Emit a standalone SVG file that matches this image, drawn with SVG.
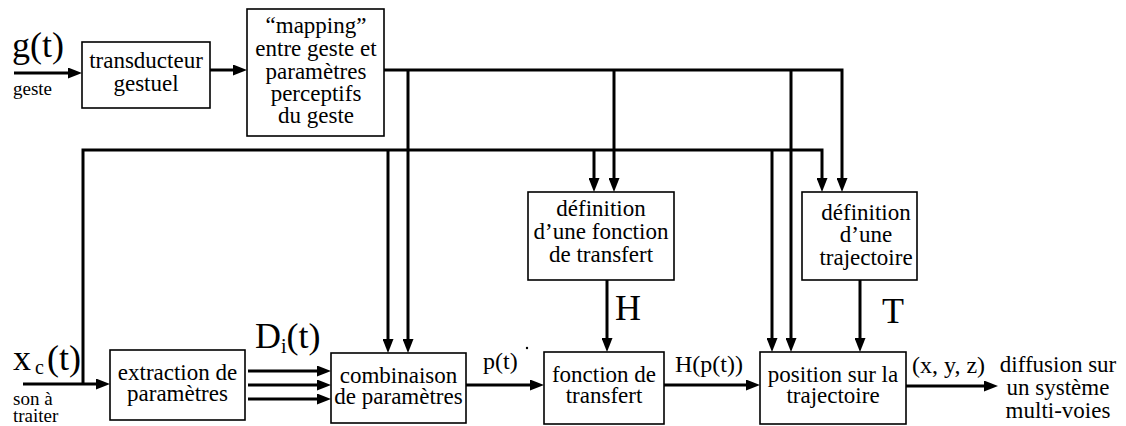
<svg xmlns="http://www.w3.org/2000/svg" width="1126" height="426" viewBox="0 0 1126 426">
<defs>
<marker id="ah" viewBox="0 0 14 11" refX="6" refY="5.5" markerWidth="14" markerHeight="11" markerUnits="userSpaceOnUse" orient="auto">
<path d="M0,0 L14,5.5 L0,11 z" fill="#000"/>
</marker>
<style>
.box{fill:#fff;stroke:#000;stroke-width:1.6}
.t{font-family:"Liberation Serif","Times New Roman",serif;font-size:23px;text-anchor:middle;fill:#000}
.s{font-family:"Liberation Serif","Times New Roman",serif;font-size:19px;fill:#000}
.m{font-family:"Liberation Serif","Times New Roman",serif;font-size:24px;fill:#000}
.b{font-family:"Liberation Serif","Times New Roman",serif;font-size:36px;fill:#000}
.ln{fill:none;stroke:#000;stroke-width:3}
.ar{fill:none;stroke:#000;stroke-width:3;marker-end:url(#ah)}
</style>
</defs>
<rect width="1126" height="426" fill="#fff"/>

<g id="connectors">
<line class="ar" x1="14" y1="73" x2="74" y2="73"/>
<line class="ar" x1="210" y1="70" x2="239" y2="70"/>
<polyline class="ar" points="384,70 842,70 842,184"/>
<line class="ar" x1="408" y1="70" x2="408" y2="345"/>
<line class="ar" x1="614" y1="70" x2="614" y2="184"/>
<line class="ar" x1="791" y1="70" x2="791" y2="344"/>
<polyline class="ar" points="83,384 83,150 822,150 822,184"/>
<line class="ar" x1="388" y1="150" x2="388" y2="345"/>
<line class="ar" x1="594" y1="150" x2="594" y2="184"/>
<line class="ar" x1="772" y1="150" x2="772" y2="344"/>
<line class="ar" x1="23" y1="384" x2="102" y2="384"/>
<line class="ar" x1="248" y1="371" x2="323" y2="371"/>
<line class="ar" x1="248" y1="385" x2="323" y2="385"/>
<line class="ar" x1="248" y1="399" x2="323" y2="399"/>
<line class="ar" x1="466" y1="385" x2="536" y2="385"/>
<line class="ar" x1="607" y1="280" x2="607" y2="344"/>
<line class="ar" x1="664" y1="385" x2="752" y2="385"/>
<line class="ar" x1="860" y1="280" x2="860" y2="344"/>
<line class="ar" x1="906" y1="386" x2="990" y2="386"/>
</g>

<g id="labels">
<text class="b" x="12" y="57">g(t)</text>
<text class="s" x="13" y="95">geste</text>
<text class="b" x="13" y="370">x<tspan font-size="20" dx="4" dy="4">c</tspan><tspan dx="3" dy="-4">(t)</tspan></text>
<text class="s" x="13" y="405">son à</text>
<text class="s" x="13" y="422">traiter</text>
<text class="b" x="255" y="348" font-size="32">D<tspan font-size="20" dy="5">i</tspan><tspan dy="-5">(t)</tspan></text>
<text class="m" x="483" y="369">p(t)</text>
<circle cx="527" cy="348" r="1.2" fill="#000"/>
<text class="b" x="615" y="320" font-size="33">H</text>
<text class="m" x="675" y="372">H(p(t))</text>
<text class="b" x="882" y="323" font-size="33">T</text>
<text class="m" x="912" y="373">(x, y, z)</text>
<text class="t" x="1058" y="372">diffusion sur</text>
<text class="t" x="1058" y="395">un système</text>
<text class="t" x="1058" y="418">multi-voies</text>
</g>

<g id="transducteur">
<rect class="box" x="82" y="42" width="128" height="66"/>
<text class="t" x="146" y="68">transducteur</text>
<text class="t" x="146" y="91">gestuel</text>
</g>

<g id="mapping">
<rect class="box" x="247" y="9" width="137" height="127"/>
<text class="t" x="316" y="33">“mapping”</text>
<text class="t" x="316" y="56">entre geste et</text>
<text class="t" x="316" y="79">paramètres</text>
<text class="t" x="316" y="101">perceptifs</text>
<text class="t" x="316" y="123">du geste</text>
</g>

<g id="def-transfert">
<rect class="box" x="528" y="192" width="146" height="88"/>
<text class="t" x="601" y="216">définition</text>
<text class="t" x="601" y="239">d’une fonction</text>
<text class="t" x="601" y="262">de transfert</text>
</g>

<g id="def-trajectoire">
<rect class="box" x="802" y="192" width="115" height="88"/>
<text class="t" x="866" y="220">définition</text>
<text class="t" x="866" y="242">d’une</text>
<text class="t" x="866" y="265">trajectoire</text>
</g>

<g id="extraction">
<rect class="box" x="110" y="350" width="135" height="70"/>
<text class="t" x="177.5" y="380">extraction de</text>
<text class="t" x="177.5" y="401">paramètres</text>
</g>

<g id="combinaison">
<rect class="box" x="331" y="353" width="135" height="70"/>
<text class="t" x="398.5" y="383">combinaison</text>
<text class="t" x="398.5" y="404">de paramètres</text>
</g>

<g id="fonction">
<rect class="box" x="544" y="352" width="120" height="72"/>
<text class="t" x="604" y="382">fonction de</text>
<text class="t" x="604" y="403">transfert</text>
</g>

<g id="position">
<rect class="box" x="760" y="352" width="146" height="72"/>
<text class="t" x="833" y="382">position sur la</text>
<text class="t" x="833" y="403">trajectoire</text>
</g>
</svg>
